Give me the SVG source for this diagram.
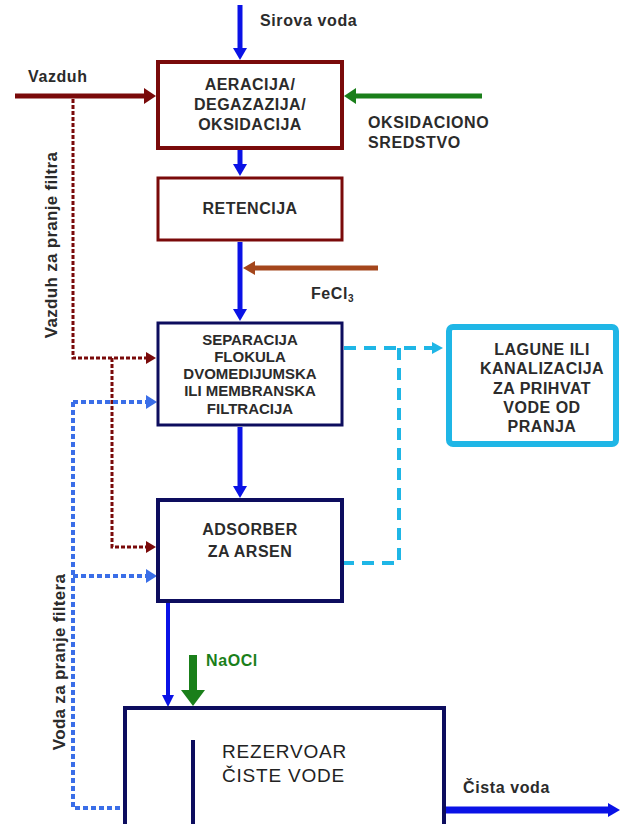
<svg xmlns="http://www.w3.org/2000/svg" width="621" height="824" viewBox="0 0 621 824">
<style>
.t{font-family:"Liberation Sans",Arial,sans-serif;font-weight:bold;font-size:16px;letter-spacing:0.5px;fill:#2b2b2b;text-anchor:middle}
.ts{font-size:15px;letter-spacing:0}
.lbl{font-family:"Liberation Sans",Arial,sans-serif;font-weight:bold;font-size:16px;letter-spacing:0.6px;fill:#2b2b2b}
.vl{font-size:17px;letter-spacing:0.3px;text-anchor:middle}
.box{fill:#fff}
.blue{stroke:#0a12e6;stroke-width:5;fill:none}
</style>
<defs>
<marker id="mBlue" markerUnits="userSpaceOnUse" markerWidth="14" markerHeight="14" refX="0" refY="7" orient="auto"><path d="M0,0 L12,7 L0,14 z" fill="#0a12e6"/></marker>
<marker id="mBlueS" markerUnits="userSpaceOnUse" markerWidth="12" markerHeight="12" refX="0" refY="6" orient="auto"><path d="M0,0 L12,6 L0,12 z" fill="#0a12e6"/></marker>
<marker id="mRed" markerUnits="userSpaceOnUse" markerWidth="14" markerHeight="16" refX="0" refY="8" orient="auto"><path d="M0,0 L12,8 L0,16 z" fill="#7a0a0a"/></marker>
<marker id="mGreen" markerUnits="userSpaceOnUse" markerWidth="14" markerHeight="16" refX="0" refY="8" orient="auto"><path d="M0,0 L12,8 L0,16 z" fill="#1a7f1a"/></marker>
<marker id="mGreenB" markerUnits="userSpaceOnUse" markerWidth="18" markerHeight="24" refX="0" refY="12" orient="auto"><path d="M0,0 L16,12 L0,24 z" fill="#1a7f1a"/></marker>
<marker id="mBrown" markerUnits="userSpaceOnUse" markerWidth="14" markerHeight="14" refX="0" refY="7" orient="auto"><path d="M0,0 L12,7 L0,14 z" fill="#a4461c"/></marker>
<marker id="mCyan" markerUnits="userSpaceOnUse" markerWidth="12" markerHeight="12" refX="0" refY="6" orient="auto"><path d="M0,0 L11,6 L0,12 z" fill="#1fb6e6"/></marker>
<marker id="mDRed" markerUnits="userSpaceOnUse" markerWidth="12" markerHeight="12" refX="0" refY="6" orient="auto"><path d="M0,0 L10,6 L0,12 z" fill="#7a0a0a"/></marker>
<marker id="mDBlue" markerUnits="userSpaceOnUse" markerWidth="12" markerHeight="14" refX="0" refY="7" orient="auto"><path d="M0,0 L11,7 L0,14 z" fill="#3a6ee8"/></marker>
</defs>

<g id="connectors">
<line x1="240" y1="5" x2="240" y2="48" class="blue" marker-end="url(#mBlue)"/>
<line x1="15" y1="96" x2="144" y2="96" stroke="#7a0a0a" stroke-width="5" marker-end="url(#mRed)"/>
<line x1="482" y1="96" x2="356" y2="96" stroke="#1a7f1a" stroke-width="5" marker-end="url(#mGreen)"/>
<line x1="240" y1="150" x2="240" y2="164" class="blue" marker-end="url(#mBlue)"/>
<line x1="240" y1="242" x2="240" y2="309" class="blue" marker-end="url(#mBlue)"/>
<line x1="378" y1="268" x2="255" y2="268" stroke="#a4461c" stroke-width="5" marker-end="url(#mBrown)"/>
<line x1="240" y1="427" x2="240" y2="486" class="blue" marker-end="url(#mBlue)"/>
<line x1="168" y1="603" x2="168" y2="695" stroke="#0a12e6" stroke-width="4" marker-end="url(#mBlueS)"/>
<line x1="193" y1="655" x2="193" y2="690" stroke="#1a7f1a" stroke-width="8" marker-end="url(#mGreenB)"/>
<line x1="446" y1="810" x2="608" y2="810" stroke="#0a12e6" stroke-width="7" marker-end="url(#mBlue)"/>
<path d="M344,348 H432" stroke="#1fb6e6" stroke-width="4" stroke-dasharray="12 8" fill="none" marker-end="url(#mCyan)"/>
<path d="M399,348 V563 H344" stroke="#1fb6e6" stroke-width="4" stroke-dasharray="12 8" fill="none"/>
<path d="M73,99 V358 H146" stroke="#7a0a0a" stroke-width="3" stroke-dasharray="4 2" fill="none" marker-end="url(#mDRed)"/>
<path d="M112,358 V547 H146" stroke="#7a0a0a" stroke-width="3" stroke-dasharray="4 2" fill="none" marker-end="url(#mDRed)"/>
<path d="M73,402 H146" stroke="#3a6ee8" stroke-width="4" stroke-dasharray="5 3" fill="none" marker-end="url(#mDBlue)"/>
<path d="M73,402 V808 H125" stroke="#3a6ee8" stroke-width="4" stroke-dasharray="5 3" fill="none"/>
<path d="M73,576 H146" stroke="#3a6ee8" stroke-width="4" stroke-dasharray="5 3" fill="none" marker-end="url(#mDBlue)"/>
</g>

<g id="labels">
<text class="lbl" x="260" y="26">Sirova voda</text>
<text class="lbl" x="28" y="82">Vazduh</text>
<text class="lbl" x="368" y="128">OKSIDACIONO</text>
<text class="lbl" x="368" y="148">SREDSTVO</text>
<text class="lbl" x="311" y="299">FeCl<tspan font-size="10" dy="3">3</tspan></text>
<text class="lbl" x="206" y="666" style="fill:#1a7f1a">NaOCl</text>
<text class="lbl" x="463" y="793">Čista voda</text>
<text class="lbl vl" transform="translate(57,245) rotate(-90)">Vazduh za pranje filtra</text>
<text class="lbl vl" transform="translate(65,662) rotate(-90)">Voda za pranje filtera</text>
</g>

<g id="aeracija">
<rect class="box" x="158" y="62" width="184" height="86" stroke="#7a0a0a" stroke-width="4"/>
<text class="t" x="250" y="90">AERACIJA/</text>
<text class="t" x="250" y="110">DEGAZAZIJA/</text>
<text class="t" x="250" y="130">OKSIDACIJA</text>
</g>
<g id="retencija">
<rect class="box" x="158" y="178" width="184" height="62" stroke="#7a0a0a" stroke-width="3"/>
<text class="t" x="250" y="214">RETENCIJA</text>
</g>
<g id="separacija">
<rect class="box" x="158" y="323" width="184" height="102" stroke="#0d0d5e" stroke-width="3"/>
<text class="t ts" x="250" y="345">SEPARACIJA</text>
<text class="t ts" x="250" y="362">FLOKULA</text>
<text class="t ts" x="250" y="379">DVOMEDIJUMSKA</text>
<text class="t ts" x="250" y="396">ILI MEMBRANSKA</text>
<text class="t ts" x="250" y="414">FILTRACIJA</text>
</g>
<g id="lagune">
<rect class="box" x="449" y="327" width="167" height="117" rx="4" stroke="#1fb6e6" stroke-width="6"/>
<text class="t" x="542" y="355">LAGUNE ILI</text>
<text class="t" x="542" y="374">KANALIZACIJA</text>
<text class="t" x="542" y="394">ZA PRIHVAT</text>
<text class="t" x="542" y="413">VODE OD</text>
<text class="t" x="542" y="432">PRANJA</text>
</g>
<g id="adsorber">
<rect class="box" x="158" y="500" width="184" height="101" stroke="#0d0d5e" stroke-width="4"/>
<text class="t" x="250" y="535">ADSORBER</text>
<text class="t" x="250" y="557">ZA ARSEN</text>
</g>
<g id="rezervoar">
<rect class="box" x="125" y="708" width="319" height="125" stroke="#0d0d5e" stroke-width="4"/>
<line x1="193" y1="740" x2="193" y2="824" stroke="#0d0d5e" stroke-width="4"/>
<text x="222" y="758" style="font-family:'Liberation Sans',Arial,sans-serif;font-size:19px;letter-spacing:0.8px;fill:#222">REZERVOAR</text>
<text x="222" y="782" style="font-family:'Liberation Sans',Arial,sans-serif;font-size:19px;letter-spacing:0.8px;fill:#222">ČISTE VODE</text>
</g>
</svg>
